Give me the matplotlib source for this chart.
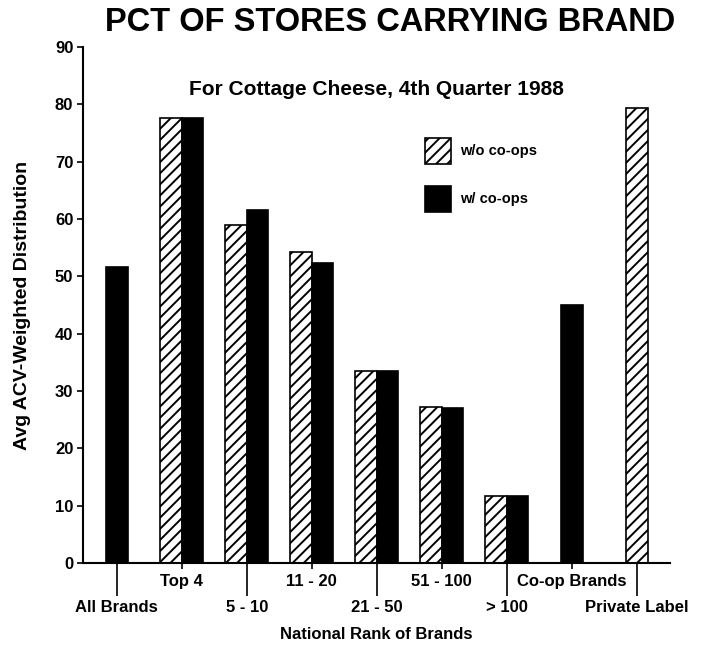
import math

import matplotlib

matplotlib.use("Agg")
import matplotlib.pyplot as plt
import numpy as np

# Data
categories = ["All Brands", "Top 4", "5 - 10", "11 - 20", "21 - 50",
              "51 - 100", "> 100", "Co-op Brands", "Private Label"]
without_coops = [math.nan, 77.7, 59.0, 54.3, 33.5, 27.2, 11.7, math.nan, 79.4]
with_coops = [51.6, 77.7, 61.6, 52.4, 33.5, 27.0, 11.7, 45.0, math.nan]
y_ticks = [0, 10, 20, 30, 40, 50, 60, 70, 80, 90]

plt.rcParams["font.family"] = ["Liberation Sans", "DejaVu Sans"]
plt.rcParams["font.weight"] = "bold"
plt.rcParams["hatch.linewidth"] = 1.4

fig = plt.figure(figsize=(7.01, 6.51), dpi=100)
ax = fig.add_axes([0.1184, 0.1352, 0.8374, 0.7926])

x = np.arange(len(categories))
w = 0.33
wo = np.array(without_coops, dtype=float)
wc = np.array(with_coops, dtype=float)
both = ~np.isnan(wo) & ~np.isnan(wc)
off = np.where(both, w / 2, 0.0)

m = ~np.isnan(wo)
ax.bar(x[m] - off[m], wo[m], w, color="white", edgecolor="black",
       hatch="///", linewidth=1.2, label="w/o co-ops", zorder=2)
m = ~np.isnan(wc)
ax.bar(x[m] + off[m], wc[m], w, color="black", edgecolor="black",
       linewidth=1.2, label="w/ co-ops", zorder=2)

ax.set_xlim(-0.52, 8.51)
ax.set_ylim(0, 90)
ax.set_yticks(y_ticks)
ax.tick_params(axis="y", length=4, width=1.2, labelsize=12, pad=3)

for s in ("top", "right"):
    ax.spines[s].set_visible(False)
ax.spines["left"].set_linewidth(1.5)
ax.spines["bottom"].set_linewidth(1.5)

# Alternating two-row category labels: long ticks for lower row
ax.set_xticks(x[::2])
ax.set_xticklabels(categories[::2], fontsize=12)
ax.set_xticks(x[1::2], minor=True)
ax.set_xticklabels(categories[1::2], minor=True, fontsize=12)
ax.tick_params(axis="x", which="major", length=24, width=1.2, pad=3)
ax.tick_params(axis="x", which="minor", length=4, width=1.2, pad=4)

ax.set_xlabel("National Rank of Brands", fontsize=12, fontweight="bold", labelpad=8)
ax.set_ylabel("Avg ACV-Weighted Distribution", fontsize=14, fontweight="bold", labelpad=17)

fig.text(0.556, 0.966, "PCT OF STORES CARRYING BRAND", ha="center", va="center",
         fontsize=23.5, fontweight="bold")
ax.text(0.5, 0.917, "For Cottage Cheese, 4th Quarter 1988", transform=ax.transAxes,
        ha="center", va="center", fontsize=15, fontweight="bold")

ax.legend(loc="upper left", bbox_to_anchor=(0.56, 0.85), frameon=False,
          fontsize=10.5, handlelength=1.8, handleheight=2.4, labelspacing=1.5,
          handletextpad=0.6)

fig.savefig("out.png", dpi=100, facecolor="white")
